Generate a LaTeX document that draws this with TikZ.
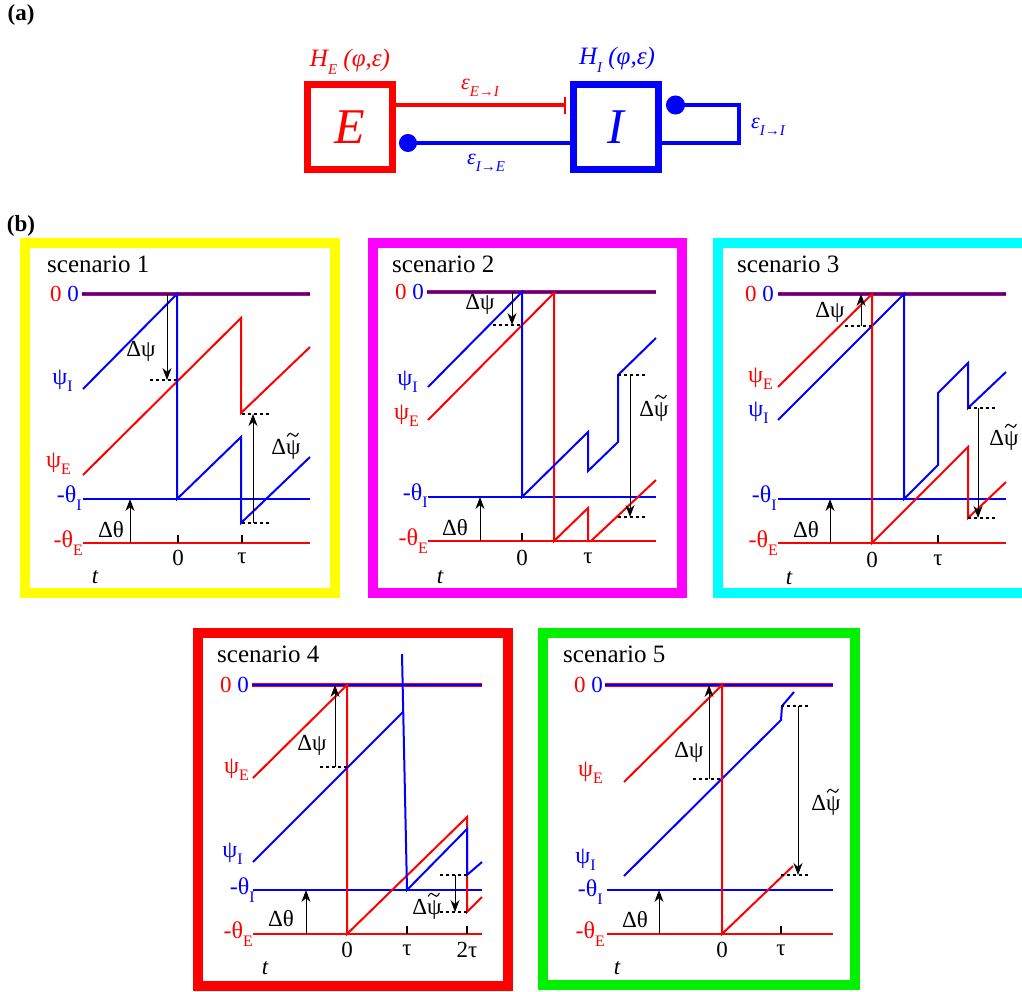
\documentclass[tikz,border=0pt]{standalone}
\usepackage{fontspec}
\setmainfont{Liberation Serif}
\usetikzlibrary{arrows.meta}
\newcommand\lsub[1]{\raisebox{-0.3em}{\fontsize{16pt}{16pt}\selectfont #1}}
\newcommand\esub[1]{\raisebox{-0.3em}{\fontsize{15pt}{15pt}\selectfont #1}}
\definecolor{pyel}{RGB}{255,255,0}
\definecolor{pmag}{RGB}{255,0,255}
\definecolor{pcyan}{RGB}{0,255,255}
\definecolor{pgreen}{RGB}{0,240,0}
\begin{document}
\begin{tikzpicture}[x=1pt,y=-1pt,
  rl/.style={red,line width=2pt},
  bl/.style={blue,line width=2pt},
  topr/.style={red,line width=4pt},
  ann/.style={black,line width=0.9pt,-{Stealth[length=12pt,width=9pt]}},
  dsh/.style={black,line width=1.3pt,dash pattern=on 3pt off 3pt},
  tck/.style={black,line width=1.8pt},
  lab/.style={font=\fontsize{23pt}{25pt}\selectfont,inner sep=0pt},
  labr/.style={lab,anchor=east,red,font=\fontsize{24pt}{25pt}\selectfont},
  labb/.style={lab,anchor=east,blue,font=\fontsize{24pt}{25pt}\selectfont},
  tlab/.style={lab,font=\fontsize{23pt}{25pt}\selectfont\itshape},
  ttl/.style={font=\fontsize{25pt}{27pt}\selectfont,anchor=west,inner sep=0pt},
  frm/.style={line width=10pt},
  box/.style={line width=7pt,minimum size=85pt,inner sep=0pt,font=\fontsize{50pt}{50pt}\selectfont\itshape},
  hlab/.style={inner sep=0pt,font=\fontsize{25pt}{27pt}\selectfont\itshape},
  elab/.style={inner sep=0pt,font=\fontsize{22pt}{24pt}\selectfont\itshape},
  plab/.style={inner sep=0pt,font=\fontsize{23pt}{25pt}\selectfont\bfseries},
  tld/.pic={\draw[black,line width=1.1pt,line cap=round] (-5.5,1.5) .. controls (-3.5,-2.5) and (-1.5,-2) .. (0,0) .. controls (1.5,2) and (3.5,2.5) .. (5.5,-1.5);},
]
\useasboundingbox (0,0) rectangle (1022,991);

% ---------------- panel (a)
\node[plab] (la) at (21,15) {(a)};
\node[plab] (lb) at (21,226) {(b)};
\node[box,draw=red,text=red] (E) at (350,127) {E};
\node[box,draw=blue,text=blue] (I) at (616,127) {I};
\node[hlab,red] (HE) at (350,62) {H\esub{E} (φ,ε)};
\node[hlab,blue] (HI) at (617,60) {H\esub{I} (φ,ε)};
\draw[red,line width=4pt,-{Bar[width=17pt,line width=2.5pt]},shorten >=4pt] ([yshift=22pt]E.east) -- ([yshift=22pt]I.west);
\draw[blue,line width=4pt,-{Circle[length=18pt]},shorten >=3pt] ([yshift=-16pt]I.west) -- ([yshift=-16pt]E.east);
\draw[blue,line width=4pt,-{Circle[length=19pt]},shorten >=4pt] ([yshift=-16pt]I.east) -- ++(77,0) |- ([yshift=22pt]I.east);
\node[elab,red] (eEI) at (480,88) {ε\esub{E→I}};
\node[elab,blue] (eIE) at (486,163) {ε\esub{I→E}};
\node[elab,blue] (eII) at (768,127) {ε\esub{I→I}};

% ---------------- scenario 1
\draw[frm,pyel] (25,243) rectangle (335,593);
\node[ttl] (t1) at (47,264) {scenario 1};
\draw[topr] (82,294) -- (310,294);
\draw[bl] (82,294) -- (310,294);
\draw[bl] (83,499) -- (310,499);
\draw[rl] (83,543) -- (310,543);
\draw[tck] (178,535) -- (178,543);
\draw[tck] (242,535) -- (242,543);
\draw[rl] (83,475) -- (241,318) -- (241,413) -- (310,347);
\draw[bl] (83,389) -- (177,294) -- (177,499) -- (241,437) -- (241,523) -- (310,457);
\draw[ann] (167,294) -- (167,380);
\draw[dsh] (150,380) -- (177,380);
\draw[ann] (130,543) -- (130,499);
\draw[ann] (253,523) -- (253,414);
\draw[dsh] (242,414) -- (270,414);
\draw[dsh] (242,523) -- (270,523);
\node[lab,anchor=east] (s1z) at (79,294) {{\color{red}0} {\color{blue}0}};
\node[labb] (s1pi) at (73,381) {ψ\lsub{I}};
\node[labr] (s1pe) at (71,464) {ψ\lsub{E}};
\node[labb] (s1ti) at (82,498) {-θ\lsub{I}};
\node[labr] (s1te) at (83,543) {-θ\lsub{E}};
\node[tlab] (s1t) at (95,577) {t};
\node[lab] (s1x0) at (178,558) {0};
\node[lab] (s1xt) at (242,558) {τ};
\node[lab] (s1dp) at (141,351) {Δψ};
\node[lab] (s1dt) at (111,530) {Δθ};
\node[lab] (s1dq) at (286,449) {Δψ};
\pic at ([xshift=-8pt,yshift=4pt]s1dq.north east) {tld};

% ---------------- scenario 2
\draw[frm,pmag] (373,243) rectangle (682,593);
\node[ttl] (t2) at (392,264) {scenario 2};
\draw[topr] (427,292) -- (656,292);
\draw[bl] (427,292) -- (656,292);
\draw[bl] (428,497) -- (656,497);
\draw[rl] (428,541) -- (656,541);
\draw[tck] (522,533) -- (522,541);
\draw[tck] (588,533) -- (588,541);
\draw[rl] (428,420) -- (554,293) -- (554,541) -- (588,508) -- (588,541) -- (591,541) -- (656,480);
\draw[bl] (428,387) -- (522,292) -- (522,497) -- (588,432) -- (588,471) -- (618,442) -- (618,375) -- (656,338);
\draw[ann] (512,292) -- (512,325);
\draw[dsh] (493,325) -- (522,325);
\draw[ann] (480,541) -- (480,497);
\draw[ann] (630,375) -- (630,517);
\draw[dsh] (618,375) -- (647,375);
\draw[dsh] (618,517) -- (647,517);
\node[lab,anchor=east] (s2z) at (424,292) {{\color{red}0} {\color{blue}0}};
\node[labb] (s2pi) at (418,382) {ψ\lsub{I}};
\node[labr] (s2pe) at (419,416) {ψ\lsub{E}};
\node[labb] (s2ti) at (428,496) {-θ\lsub{I}};
\node[labr] (s2te) at (428,541) {-θ\lsub{E}};
\node[tlab] (s2t) at (440,577) {t};
\node[lab] (s2x0) at (522,558) {0};
\node[lab] (s2xt) at (588,558) {τ};
\node[lab] (s2dp) at (480,304) {Δψ};
\node[lab] (s2dt) at (455,528) {Δθ};
\node[lab] (s2dq) at (654,411) {Δψ};
\pic at ([xshift=-8pt,yshift=4pt]s2dq.north east) {tld};

% ---------------- scenario 3
\draw[frm,pcyan] (1030,243) -- (718,243) -- (718,593) -- (1030,593);
\node[ttl] (t3) at (737,264) {scenario 3};
\draw[topr] (778,294) -- (1006,294);
\draw[bl] (778,294) -- (1006,294);
\draw[bl] (778,499) -- (1006,499);
\draw[rl] (778,543) -- (1006,543);
\draw[tck] (872,535) -- (872,543);
\draw[tck] (938,535) -- (938,543);
\draw[bl] (778,420) -- (904,294) -- (904,499) -- (938,465) -- (938,393) -- (968,363) -- (968,408) -- (1006,372);
\draw[rl] (778,387) -- (872,294) -- (872,543) -- (968,447) -- (968,518) -- (1006,482);
\draw[ann] (861,326) -- (861,294);
\draw[dsh] (845,326) -- (872,326);
\draw[ann] (830,543) -- (830,499);
\draw[ann] (978,408) -- (978,518);
\draw[dsh] (968,408) -- (996,408);
\draw[dsh] (968,518) -- (996,518);
\node[lab,anchor=east] (s3z) at (774,294) {{\color{red}0} {\color{blue}0}};
\node[labr] (s3pe) at (773,379) {ψ\lsub{E}};
\node[labb] (s3pi) at (769,413) {ψ\lsub{I}};
\node[labb] (s3ti) at (777,498) {-θ\lsub{I}};
\node[labr] (s3te) at (778,543) {-θ\lsub{E}};
\node[tlab] (s3t) at (789,578) {t};
\node[lab] (s3x0) at (872,560) {0};
\node[lab] (s3xt) at (938,560) {τ};
\node[lab] (s3dp) at (830,312) {Δψ};
\node[lab] (s3dt) at (806,530) {Δθ};
\node[lab] (s3dq) at (1004,440) {Δψ};
\pic at ([xshift=-8pt,yshift=4pt]s3dq.north east) {tld};

% ---------------- scenario 4
\draw[frm,red] (198,633) rectangle (508,986);
\node[ttl] (t4) at (217,654) {scenario 4};
\draw[topr] (252,685) -- (482,685);
\draw[bl] (252,685) -- (482,685);
\draw[bl] (253,890) -- (482,890);
\draw[rl] (253,934) -- (482,934);
\draw[tck] (347,926) -- (347,934);
\draw[tck] (407,926) -- (407,934);
\draw[tck] (467,926) -- (467,934);
\draw[rl] (253,778) -- (347,685) -- (347,934) -- (467,817) -- (467,912) -- (482,897);
\draw[bl] (253,862) -- (403,712);
\draw[bl] (402,654) -- (407,890) -- (467,829) -- (467,875) -- (482,862);
\draw[ann] (335,767) -- (335,685);
\draw[dsh] (320,767) -- (347,767);
\draw[ann] (306,934) -- (306,890);
\draw[ann] (455,875) -- (455,912);
\draw[dsh] (440,875) -- (467,875);
\draw[dsh] (440,912) -- (467,912);
\node[lab,anchor=east] (s4z) at (249,685) {{\color{red}0} {\color{blue}0}};
\node[labr] (s4pe) at (249,770) {ψ\lsub{E}};
\node[labb] (s4pi) at (243,854) {ψ\lsub{I}};
\node[labb] (s4ti) at (255,890) {-θ\lsub{I}};
\node[labr] (s4te) at (253,934) {-θ\lsub{E}};
\node[tlab] (s4t) at (265,968) {t};
\node[lab] (s4x0) at (347,950) {0};
\node[lab] (s4xt) at (407,950) {τ};
\node[lab] (s4x2) at (467,950) {2τ};
\node[lab] (s4dp) at (312,745) {Δψ};
\node[lab] (s4dt) at (281,919) {Δθ};
\node[lab] (s4dq) at (427,909) {Δψ};
\pic at ([xshift=-8pt,yshift=4pt]s4dq.north east) {tld};

% ---------------- scenario 5
\draw[frm,pgreen] (543,633) rectangle (855,985);
\node[ttl] (t5) at (563,654) {scenario 5};
\draw[topr] (605,685) -- (833,685);
\draw[bl] (605,685) -- (833,685);
\draw[bl] (607,890) -- (833,890);
\draw[rl] (607,934) -- (833,934);
\draw[tck] (722,926) -- (722,934);
\draw[tck] (781,926) -- (781,934);
\draw[bl] (624,876) -- (781,720) -- (782,706) -- (794,692);
\draw[rl] (624,782) -- (722,685) -- (722,934) -- (793,866);
\draw[ann] (709,779) -- (709,685);
\draw[dsh] (693,779) -- (722,779);
\draw[ann] (659,934) -- (659,890);
\draw[ann] (798,706) -- (798,875);
\draw[dsh] (781,706) -- (808,706);
\draw[dsh] (781,875) -- (808,875);
\node[lab,anchor=east] (s5z) at (603,685) {{\color{red}0} {\color{blue}0}};
\node[labr] (s5pe) at (603,773) {ψ\lsub{E}};
\node[labb] (s5pi) at (596,860) {ψ\lsub{I}};
\node[labb] (s5ti) at (603,892) {-θ\lsub{I}};
\node[labr] (s5te) at (605,934) {-θ\lsub{E}};
\node[tlab] (s5t) at (617,968) {t};
\node[lab] (s5x0) at (722,950) {0};
\node[lab] (s5xt) at (781,950) {τ};
\node[lab] (s5dp) at (689,752) {Δψ};
\node[lab] (s5dt) at (635,920) {Δθ};
\node[lab] (s5dq) at (826,805) {Δψ};
\pic at ([xshift=-8pt,yshift=4pt]s5dq.north east) {tld};
\end{tikzpicture}
\end{document}
